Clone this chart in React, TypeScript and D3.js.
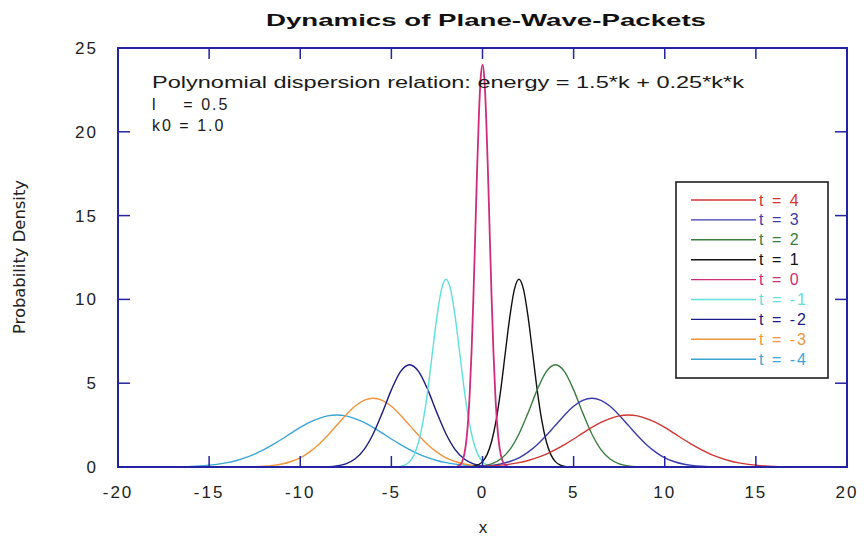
import React from "react";
import * as d3 from "d3";

const W = 864;
const H = 537;
const margin = { top: 48, right: 17, bottom: 70, left: 118 };

const xTicks = [-20, -15, -10, -5, 0, 5, 10, 15, 20];
const yTicks = [0, 5, 10, 15, 20, 25];

const infoLines = [
  "Polynomial dispersion relation: energy = 1.5*k + 0.25*k*k",
  "l    = 0.5",
  "k0 = 1.0",
];

const t4Vals = [0.012, 0.022, 0.038, 0.065, 0.11, 0.17, 0.26, 0.39, 0.56, 0.77, 1.03, 1.34, 1.67, 2.02, 2.36, 2.66, 2.89, 3.05, 3.1, 3.05, 2.89, 2.66, 2.36, 2.02, 1.67, 1.34, 1.03, 0.77, 0.56, 0.39, 0.26, 0.17, 0.11, 0.065, 0.038, 0.022, 0.012];
const t3Vals = [0.009, 0.021, 0.046, 0.094, 0.18, 0.33, 0.55, 0.89, 1.33, 1.88, 2.49, 3.09, 3.62, 3.97, 4.1, 3.97, 3.62, 3.09, 2.49, 1.88, 1.33, 0.89, 0.55, 0.33, 0.18, 0.094, 0.046, 0.021, 0.009];
const t2Vals = [0.005, 0.02, 0.066, 0.19, 0.48, 1.04, 1.97, 3.23, 4.6, 5.69, 6.1, 5.69, 4.6, 3.23, 1.97, 1.04, 0.48, 0.19, 0.066, 0.02, 0.005];
const t1Vals = [0, 0.01, 0.04, 0.12, 0.32, 0.74, 1.52, 2.79, 4.6, 6.8, 8.97, 10.6, 11.2, 10.6, 8.97, 6.8, 4.6, 2.79, 1.52, 0.74, 0.32, 0.12, 0.04, 0.01, 0];
const t0Vals = [0.03, 0.07, 0.16, 0.36, 0.75, 1.45, 2.6, 4.4, 6.9, 10.1, 13.8, 17.6, 20.9, 23.2, 24, 23.2, 20.9, 17.6, 13.8, 10.1, 6.9, 4.4, 2.6, 1.45, 0.75, 0.36, 0.16, 0.07, 0.03];
const tm1Vals = [0, 0.01, 0.04, 0.12, 0.32, 0.74, 1.52, 2.79, 4.6, 6.8, 8.97, 10.6, 11.2, 10.6, 8.97, 6.8, 4.6, 2.79, 1.52, 0.74, 0.32, 0.12, 0.04, 0.01, 0];
const tm2Vals = [0.005, 0.02, 0.066, 0.19, 0.48, 1.04, 1.97, 3.23, 4.6, 5.69, 6.1, 5.69, 4.6, 3.23, 1.97, 1.04, 0.48, 0.19, 0.066, 0.02, 0.005];
const tm3Vals = [0.009, 0.021, 0.046, 0.094, 0.18, 0.33, 0.55, 0.89, 1.33, 1.88, 2.49, 3.09, 3.62, 3.97, 4.1, 3.97, 3.62, 3.09, 2.49, 1.88, 1.33, 0.89, 0.55, 0.33, 0.18, 0.094, 0.046, 0.021, 0.009];
const tm4Vals = [0.012, 0.022, 0.038, 0.065, 0.11, 0.17, 0.26, 0.39, 0.56, 0.77, 1.03, 1.34, 1.67, 2.02, 2.36, 2.66, 2.89, 3.05, 3.1, 3.05, 2.89, 2.66, 2.36, 2.02, 1.67, 1.34, 1.03, 0.77, 0.56, 0.39, 0.26, 0.17, 0.11, 0.065, 0.038, 0.022, 0.012];

const series = [
  { label: "t = 4", color: "#d23434", x0: -1, dx: 0.5, vals: t4Vals },
  { label: "t = 3", color: "#3b3bab", x0: -1, dx: 0.5, vals: t3Vals },
  { label: "t = 2", color: "#3a7d3f", x0: -1, dx: 0.5, vals: t2Vals },
  { label: "t = 1", color: "#111111", x0: -1, dx: 0.25, vals: t1Vals },
  { label: "t = 0", color: "#d02b7c", x0: -1.4, dx: 0.1, vals: t0Vals },
  { label: "t = -1", color: "#5fdede", x0: -5, dx: 0.25, vals: tm1Vals },
  { label: "t = -2", color: "#1c1c86", x0: -9, dx: 0.5, vals: tm2Vals },
  { label: "t = -3", color: "#f0953c", x0: -13, dx: 0.5, vals: tm3Vals },
  { label: "t = -4", color: "#3aa6d6", x0: -17, dx: 0.5, vals: tm4Vals },
];

const frameColor = "#2323a3";
const font = "'Liberation Sans', Arial, sans-serif";

export default function App() {
  const iw = W - margin.left - margin.right;
  const ih = H - margin.top - margin.bottom;
  const x = d3.scaleLinear().domain([-20, 20]).range([0, iw]);
  const y = d3.scaleLinear().domain([0, 25]).range([ih, 0]);

  const line = d3
    .line<[number, number]>()
    .x((d) => x(d[0]))
    .y((d) => y(d[1]))
    .curve(d3.curveMonotoneX);

  const drawOrder = [8, 7, 6, 5, 3, 2, 1, 0, 4];

  return (
    <div style={{ position: "absolute", left: 0, top: 0, background: "#fff" }}>
      <svg width={W} height={H} style={{ display: "block" }}>
        <rect width={W} height={H} fill="#fff" />
        <text
          x={486}
          y={26}
          textAnchor="middle"
          fontFamily={font}
          fontWeight="bold"
          fontSize={17}
          textLength={440}
          lengthAdjust="spacingAndGlyphs"
          fill="#111"
        >
          Dynamics of Plane-Wave-Packets
        </text>

        <g transform={`translate(${margin.left},${margin.top})`}>
          {/* curves */}
          {drawOrder.map((i) => {
            const s = series[i];
            const pts: [number, number][] = s.vals.map((v, k) => [s.x0 + k * s.dx, v]);
            return (
              <path
                key={s.label}
                d={line(pts) || ""}
                fill="none"
                stroke={s.color}
                strokeWidth={i === 4 ? 1.8 : 1.4}
                strokeLinejoin="round"
              />
            );
          })}

          {/* frame and ticks */}
          <rect x={0} y={0} width={iw} height={ih} fill="none" stroke={frameColor} strokeWidth={2} />
          {xTicks.map((t) => (
            <g key={`xt${t}`}>
              <line x1={x(t)} x2={x(t)} y1={ih} y2={ih - 11} stroke={frameColor} strokeWidth={1.5} />
              <line x1={x(t)} x2={x(t)} y1={0} y2={11} stroke={frameColor} strokeWidth={1.5} />
              <text
                x={x(t)}
                y={ih + 31}
                textAnchor="middle"
                fontFamily={font}
                fontSize={17}
                letterSpacing={2}
                fill="#222"
              >
                {t}
              </text>
            </g>
          ))}
          {yTicks.map((t) => (
            <g key={`yt${t}`}>
              <line x1={0} x2={12} y1={y(t)} y2={y(t)} stroke={frameColor} strokeWidth={1.5} />
              <line x1={iw} x2={iw - 12} y1={y(t)} y2={y(t)} stroke={frameColor} strokeWidth={1.5} />
              <text
                x={-20}
                y={y(t) + 6}
                textAnchor="end"
                fontFamily={font}
                fontSize={17}
                letterSpacing={2}
                fill="#222"
              >
                {t}
              </text>
            </g>
          ))}

          {/* annotation */}
          {infoLines.map((t, i) => (
            <text
              key={t}
              x={34}
              y={40 + i * 21.5}
              fontFamily={font}
              fontSize={16}
              fill="#1a1a1a"
              style={{ whiteSpace: "pre" }}
              textLength={i === 0 ? 592 : undefined}
              lengthAdjust="spacingAndGlyphs"
              letterSpacing={i === 0 ? 0 : 2}
            >
              {t}
            </text>
          ))}

          {/* legend */}
          <g transform={`translate(${558},${134})`}>
            <rect x={0} y={0} width={152} height={196} fill="#fff" stroke="#111" strokeWidth={1.5} />
            {series.map((s, i) => (
              <g key={s.label} transform={`translate(0,${18 + i * 19.9})`}>
                <line x1={15} x2={80} y1={0} y2={0} stroke={s.color} strokeWidth={1.4} />
                <text
                  x={83}
                  y={5.5}
                  fontFamily={font}
                  fontSize={16}
                  letterSpacing={2}
                  fill={s.color}
                >
                  {s.label}
                </text>
              </g>
            ))}
          </g>
        </g>

        <text
          transform={`translate(25,${257}) rotate(-90)`}
          textAnchor="middle"
          fontFamily="'Liberation Sans Narrow', 'DejaVu Sans Condensed', sans-serif"
          fontSize={16}
          textLength={154}
          lengthAdjust="spacingAndGlyphs"
          fill="#222"
        >
          Probability Density
        </text>
        <text
          x={483}
          y={533}
          textAnchor="middle"
          fontFamily="'Liberation Sans Narrow', sans-serif"
          fontSize={17}
          fill="#222"
        >
          x
        </text>
      </svg>
    </div>
  );
}
